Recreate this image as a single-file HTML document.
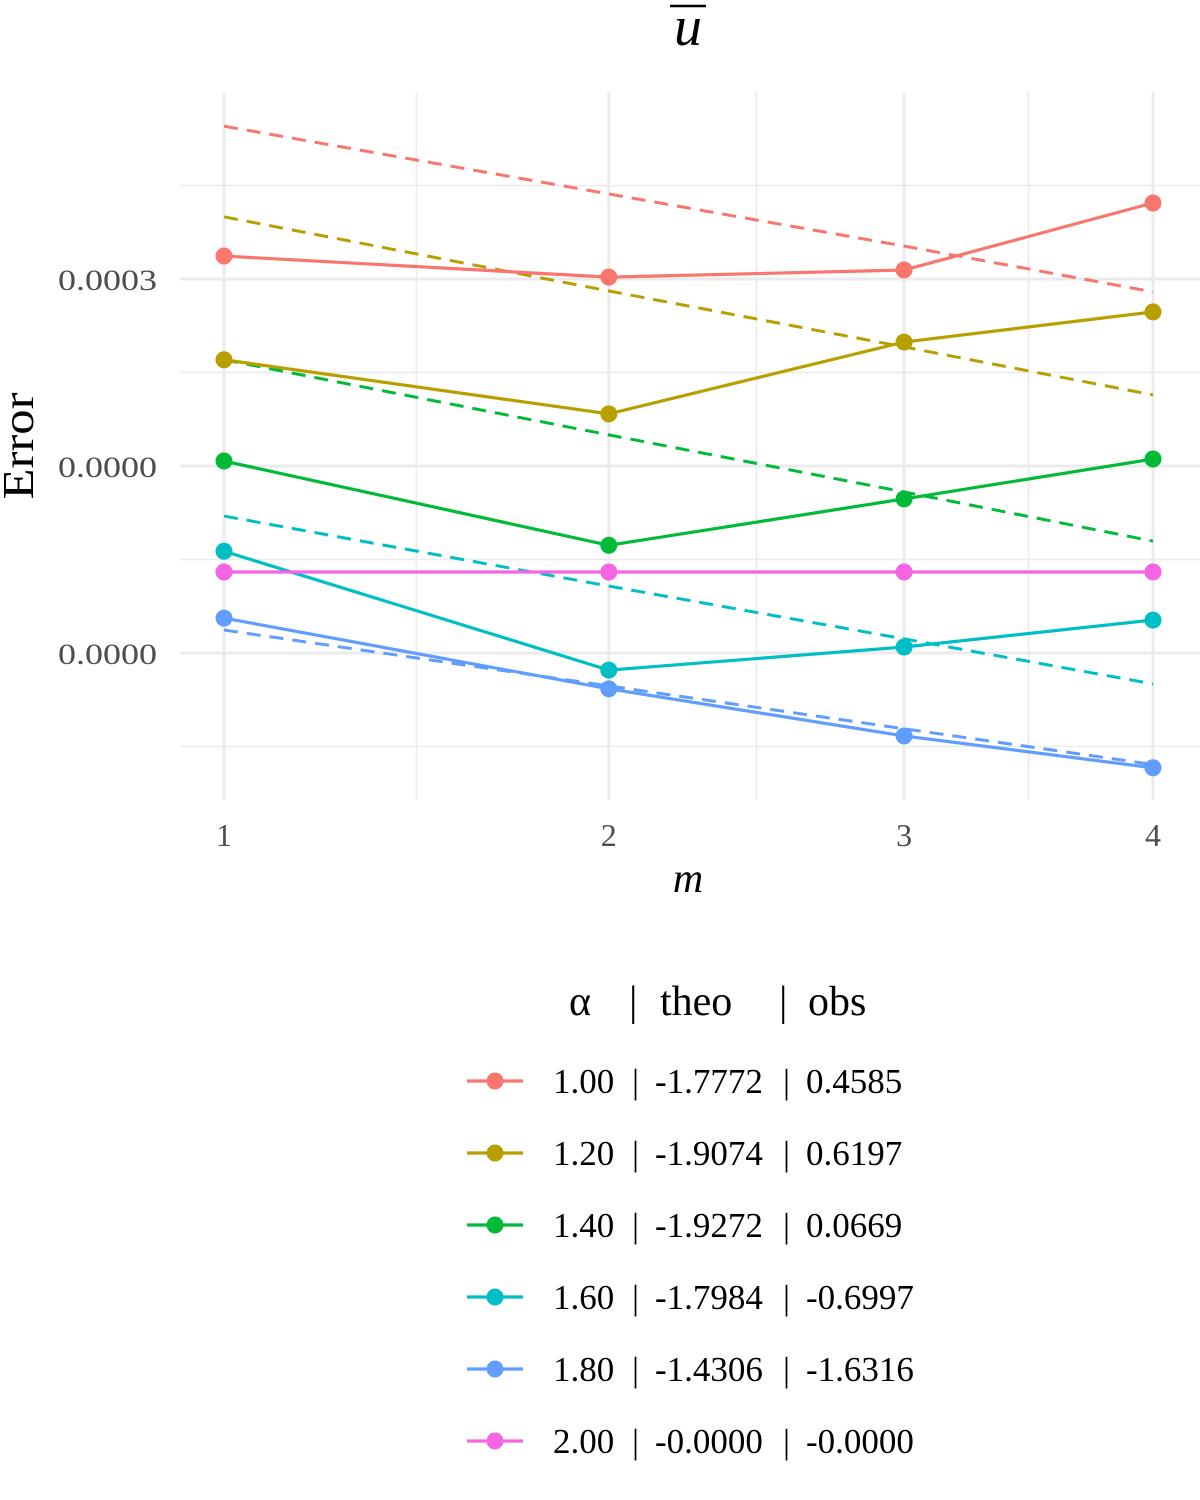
<!DOCTYPE html>
<html><head><meta charset="utf-8"><style>
html,body{margin:0;padding:0;background:#fff;}
svg{display:block;font-family:"Liberation Serif",serif;}
</style></head><body>
<svg id="chart" width="1200" height="1500" viewBox="0 0 1200 1500"></svg>
<script>
const categories = [1, 2, 3, 4];
const alphaCol = ["1.00","1.20","1.40","1.60","1.80","2.00"];
const theoCol = ["-1.7772","-1.9074","-1.9272","-1.7984","-1.4306","-0.0000"];
const obsCol = ["0.4585","0.6197","0.0669","-0.6997","-1.6316","-0.0000"];
const colors = ["#F8766D","#B79F00","#00BA38","#00BFC4","#619CFF","#F564E3"];
const obsRed = [3.98e-4, 3.07e-4, 3.35e-4, 7.65e-4];
const obsGold = [1.11e-4, 5.70e-5, 1.38e-4, 2.00e-4];
const obsGreen = [3.19e-5, 1.13e-5, 2.00e-5, 3.27e-5];
const obsCyan = [1.05e-5, 2.43e-6, 3.23e-6, 4.50e-6];
const obsBlue = [4.61e-6, 1.93e-6, 1.08e-6, 7.3e-7];
const obsPink = [8.13e-6, 8.13e-6, 8.13e-6, 8.13e-6];
const theoRed = [1.97e-3, 8.55e-4, 4.50e-4, 2.56e-4];
const theoGold = [6.45e-4, 2.59e-4, 1.30e-4, 7.2e-5];
const theoGreen = [1.11e-4, 4.40e-5, 2.18e-5, 1.19e-5];
const theoCyan = [1.62e-5, 6.84e-6, 3.57e-6, 2.05e-6];
const theoBlue = [3.98e-6, 2.0e-6, 1.18e-6, 7.6e-7];
const theoPink = [8.13e-6, 8.13e-6, 8.13e-6, 8.13e-6];
const yTicks = [3e-4, 3e-5, 3e-6];
const yTickLabels = ["0.0003","0.0000","0.0000"];

const obsSeries = [obsRed, obsGold, obsGreen, obsCyan, obsBlue, obsPink];
const theoSeries = [theoRed, theoGold, theoGreen, theoCyan, theoBlue, theoPink];

const NS = "http://www.w3.org/2000/svg";
const svg = document.getElementById("chart");
function xS(m){ return 224 + (Math.sqrt(m) - 1) * 929; }
function yS(v){ return 279 - (Math.log10(v) - Math.log10(3e-4)) * 187; }
function mk(tag, attrs, parent){ const e = document.createElementNS(NS, tag); for (const k in attrs) e.setAttribute(k, attrs[k]); (parent||svg).appendChild(e); return e; }
const L = 180, R = 1200, T = 92, B = 800;

const grid = mk("g", {});


for (let i = 0; i < categories.length - 1; i++) {
  const mid = Math.pow((Math.sqrt(categories[i]) + Math.sqrt(categories[i+1])) / 2, 2);
  const x = xS(mid);
  mk("line", {x1:x, x2:x, y1:T, y2:B, stroke:"#ebebeb", "stroke-width":1.5}, grid);
}
yTicks.forEach(t => {
  [t*Math.sqrt(10), t/Math.sqrt(10)].forEach(v => { const y = yS(v); if (y > T && y < B) mk("line", {x1:L, x2:R, y1:y, y2:y, stroke:"#ebebeb", "stroke-width":1.5}, grid); });
});
categories.forEach(m => mk("line", {x1:xS(m), x2:xS(m), y1:T, y2:B, stroke:"#ebebeb", "stroke-width":3}, grid));
yTicks.forEach(t => mk("line", {x1:L, x2:R, y1:yS(t), y2:yS(t), stroke:"#ebebeb", "stroke-width":3}, grid));

yTicks.forEach((t, i) => {
  const e = mk("text", {x:157, y:yS(t)+11, "text-anchor":"end", "font-size":30, fill:"#4d4d4d", textLength:99, lengthAdjust:"spacingAndGlyphs"});
  e.textContent = yTickLabels[i];
  
  
});
categories.forEach(m => {
  const e = mk("text", {x:xS(m), y:846, "text-anchor":"middle", "font-size":32, fill:"#4d4d4d"});
  e.textContent = String(m);
  
  
});

theoSeries.forEach((s, i) => {
  const p = mk("polyline", {points: s.map((v,j)=>xS(categories[j])+","+yS(v)).join(" "), fill:"none", stroke:colors[i], "stroke-width":3, "stroke-dasharray":"14,9"});
  
  
});
obsSeries.forEach((s, i) => {
  const p = mk("polyline", {points: s.map((v,j)=>xS(categories[j])+","+yS(v)).join(" "), fill:"none", stroke:colors[i], "stroke-width":3.2});
  
  
  s.forEach((v, j) => {
    const c = mk("circle", {cx:xS(categories[j]), cy:yS(v), r:8.5, fill:colors[i]});
    
    
  });
});

let t = mk("text", {x:688, y:45, "text-anchor":"middle", "font-size":56, "font-style":"italic"});
t.textContent = "u";


mk("line", {x1:670, x2:706, y1:6, y2:6, stroke:"#000", "stroke-width":2.5});
t = mk("text", {x:0, y:0, "text-anchor":"middle", "font-size":44, transform:"translate(33,446) rotate(-90)", textLength:107, lengthAdjust:"spacingAndGlyphs"});
t.textContent = "Error";


t = mk("text", {x:688, y:892, "text-anchor":"middle", "font-size":42, "font-style":"italic"});
t.textContent = "m";



// legend title
const lt = mk("text", {y:1015, "font-size":42});


[["α",569],["|",629],["theo",660],["|",779],["obs",808]].forEach(p => {
  const s = mk("tspan", {x:p[1]}, lt); s.textContent = p[0];
});
alphaCol.forEach((a, i) => {
  const y = 1081 + i * 72;
  const g = mk("g", {});
  
  
  mk("line", {x1:467, x2:523, y1:y, y2:y, stroke:colors[i], "stroke-width":3.2}, g);
  mk("circle", {cx:495, cy:y, r:8.5, fill:colors[i]}, g);
  const tx = mk("text", {y:y+12, "font-size":35}, g);
  [[a,553],["|",632],[theoCol[i],655],["|",783],[obsCol[i],806]].forEach(p => {
    const s = mk("tspan", {x:p[1]}, tx); s.textContent = p[0];
  });
});
</script>
</body></html>
